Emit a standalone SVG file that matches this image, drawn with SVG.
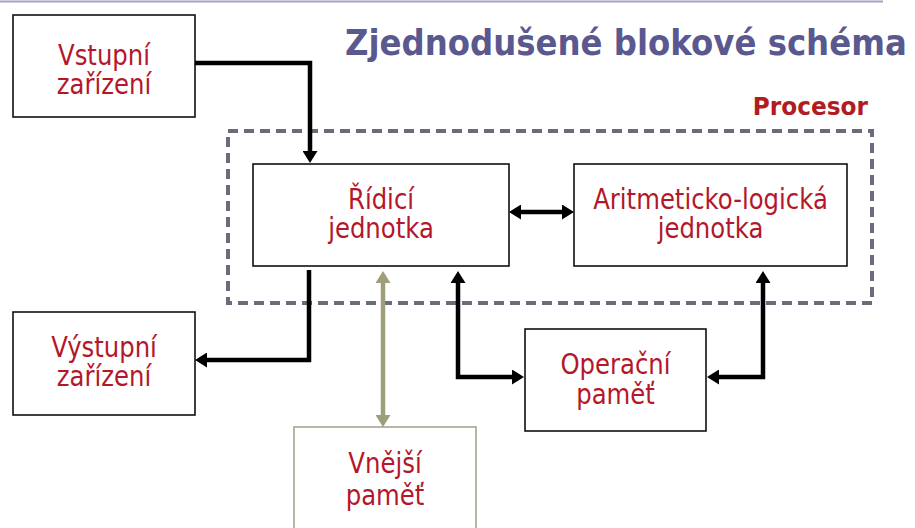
<svg xmlns="http://www.w3.org/2000/svg" width="915" height="528" viewBox="0 0 915 528">
  <style>
    .box { fill: #ffffff; stroke: #111111; stroke-width: 1.6; }
    .ext { fill: #ffffff; stroke: #a5a58c; stroke-width: 1.6; }
    .lbl { font-family: "DejaVu Sans", Verdana, sans-serif; font-size: 28px; fill: #b4172a; text-anchor: middle; }
    .title { font-family: "DejaVu Sans", Verdana, sans-serif; font-weight: bold; font-size: 36px; fill: #595990; }
    .proc { font-family: "DejaVu Sans", Verdana, sans-serif; font-weight: bold; font-size: 25px; fill: #b01c22; text-anchor: end; }
    .conn { fill: none; stroke: #000000; stroke-width: 4.5; stroke-linejoin: miter; }
    .olive { fill: none; stroke: #9e9e7c; stroke-width: 4.5; }
  </style>
  <defs>
    <marker id="ah" viewBox="0 0 12 15" refX="7" refY="7.5" markerWidth="12" markerHeight="15" markerUnits="userSpaceOnUse" orient="auto-start-reverse">
      <path d="M0,0 L12,7.5 L0,15 Z" fill="#000000"/>
    </marker>
    <marker id="ahOlive" viewBox="0 0 12 15" refX="7" refY="7.5" markerWidth="12" markerHeight="15" markerUnits="userSpaceOnUse" orient="auto-start-reverse">
      <path d="M0,0 L12,7.5 L0,15 Z" fill="#9e9e7c"/>
    </marker>
  </defs>

  <rect width="915" height="528" fill="#ffffff"/>
  <line x1="0" y1="1.5" x2="883" y2="1.5" stroke="#a2a2c2" stroke-width="2"/>

  <text class="title" transform="translate(345 0) scale(0.9 1)" x="0" y="55">Zjednodušené blokové schéma</text>

  <g id="procesor">
    <rect x="228" y="131" width="644" height="172" fill="none" stroke="#6b6b7b" stroke-width="4" stroke-dasharray="10 6"/>
    <text class="proc" transform="translate(868 0) scale(0.93 1)" x="0" y="115">Procesor</text>
  </g>

  <g id="vstupni">
    <rect class="box" x="13" y="15" width="182" height="102"/>
    <text class="lbl" transform="translate(104 0) scale(0.87 1)" x="0" y="65">Vstupní</text>
    <text class="lbl" transform="translate(104 0) scale(0.87 1)" x="0" y="94">zařízení</text>
  </g>

  <g id="ridici">
    <rect class="box" x="253" y="164" width="256" height="102"/>
    <text class="lbl" transform="translate(381 0) scale(0.87 1)" x="0" y="209">Řídicí</text>
    <text class="lbl" transform="translate(381 0) scale(0.87 1)" x="0" y="238">jednotka</text>
  </g>

  <g id="alu">
    <rect class="box" x="574" y="164" width="273" height="102"/>
    <text class="lbl" transform="translate(710.5 0) scale(0.87 1)" x="0" y="209">Aritmeticko-logická</text>
    <text class="lbl" transform="translate(710.5 0) scale(0.87 1)" x="0" y="238">jednotka</text>
  </g>

  <g id="vystupni">
    <rect class="box" x="13" y="312" width="182" height="103"/>
    <text class="lbl" transform="translate(104 0) scale(0.87 1)" x="0" y="357">Výstupní</text>
    <text class="lbl" transform="translate(104 0) scale(0.87 1)" x="0" y="386">zařízení</text>
  </g>

  <g id="operacni">
    <rect class="box" x="525" y="329" width="181" height="102"/>
    <text class="lbl" transform="translate(615.5 0) scale(0.87 1)" x="0" y="374">Operační</text>
    <text class="lbl" transform="translate(615.5 0) scale(0.87 1)" x="0" y="404">paměť</text>
  </g>

  <g id="vnejsi">
    <rect class="ext" x="294" y="427" width="182" height="110"/>
    <text class="lbl" transform="translate(385 0) scale(0.87 1)" x="0" y="473">Vnější</text>
    <text class="lbl" transform="translate(385 0) scale(0.87 1)" x="0" y="505">paměť</text>
  </g>

  <g id="connectors">
    <path class="conn" d="M195,63 H310 V158" marker-end="url(#ah)"/>
    <path class="conn" d="M514,212 H569" marker-start="url(#ah)" marker-end="url(#ah)"/>
    <path class="conn" d="M309,270 V360 H200" marker-end="url(#ah)"/>
    <path class="olive" d="M383,276 V422" marker-start="url(#ahOlive)" marker-end="url(#ahOlive)"/>
    <path class="conn" d="M458,276 V377 H519" marker-start="url(#ah)" marker-end="url(#ah)"/>
    <path class="conn" d="M763,276 V377 H712" marker-start="url(#ah)" marker-end="url(#ah)"/>
  </g>
</svg>
